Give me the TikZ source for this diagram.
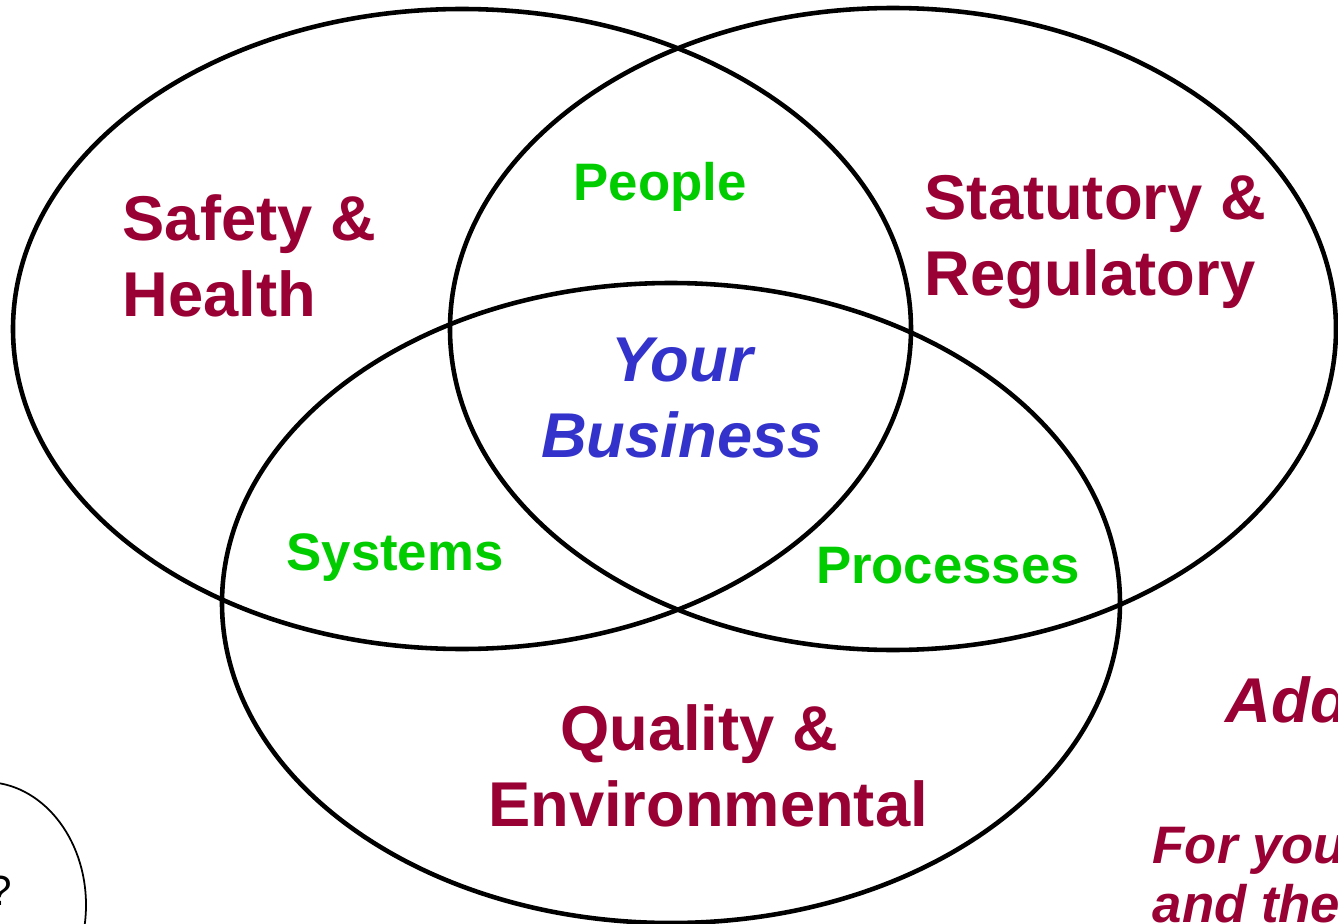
\documentclass[tikz,border=0pt]{standalone}
\usepackage{fontspec}
\setsansfont{Liberation Sans}
\usepackage{tikz}
\definecolor{fieldred}{HTML}{990033}
\definecolor{overlapgreen}{HTML}{00CC00}
\definecolor{hubblue}{HTML}{3333CC}

\begin{document}
\begin{tikzpicture}[x=0.01cm,y=-0.01cm,
    ring/.style={draw=black,line width=1.3pt},
    field/.style={text=fieldred,inner sep=0pt,font=\sffamily\bfseries\fontsize{18}{21.5}\selectfont},
    overlap/.style={text=overlapgreen,inner sep=0pt,font=\sffamily\bfseries\fontsize{15}{18}\selectfont},
    hub/.style={text=hubblue,inner sep=0pt,align=center,font=\sffamily\bfseries\itshape\fontsize{18}{21.8}\selectfont},
    note/.style={text=fieldred,inner sep=0pt,font=\sffamily\bfseries\itshape\fontsize{#1}{18}\selectfont}]
    \clip (0,0) rectangle (1338,924);

    % the three circles
    \draw[ring] (462,329) ellipse [x radius=449, y radius=320];
    \draw[ring] (893,329) ellipse [x radius=443, y radius=321];
    \draw[ring] (671,603) ellipse [x radius=449, y radius=320];
    % bit of another ring at the corner
    \draw[line width=0.5pt] (-15,905) ellipse [x radius=101, y radius=123];

    \node[field,align=left,anchor=north west] (safety) at (122,194) {Safety \&\\Health};
    \node[field,align=left,anchor=north west] (statutory) at (924,175) {Statutory \&\\Regulatory};
    \node[field,align=center,anchor=north] (quality) at (708,704) {Quality \&\kern5pt\\Environmental};

    \node[overlap,anchor=base] (people) at (660,200) {People};
    \node[overlap,anchor=base] (systems) at (395,570) {Systems};
    \node[overlap,anchor=base] (processes) at (948,583) {Processes};

    \node[hub,anchor=north] (business) at (682,337) {Your\\Business};

    \node[note=18,anchor=base west] (add) at (1225,722) {Add};
    \node[note=15,anchor=base west] (foryou) at (1152,863) {For you};
    \node[note=15,anchor=base west] (andthe) at (1152,922) {and the};
    \node[inner sep=0pt,anchor=base east,font=\sffamily\fontsize{12}{14}\selectfont] (query) at (13,905) {?};
\end{tikzpicture}
\end{document}
